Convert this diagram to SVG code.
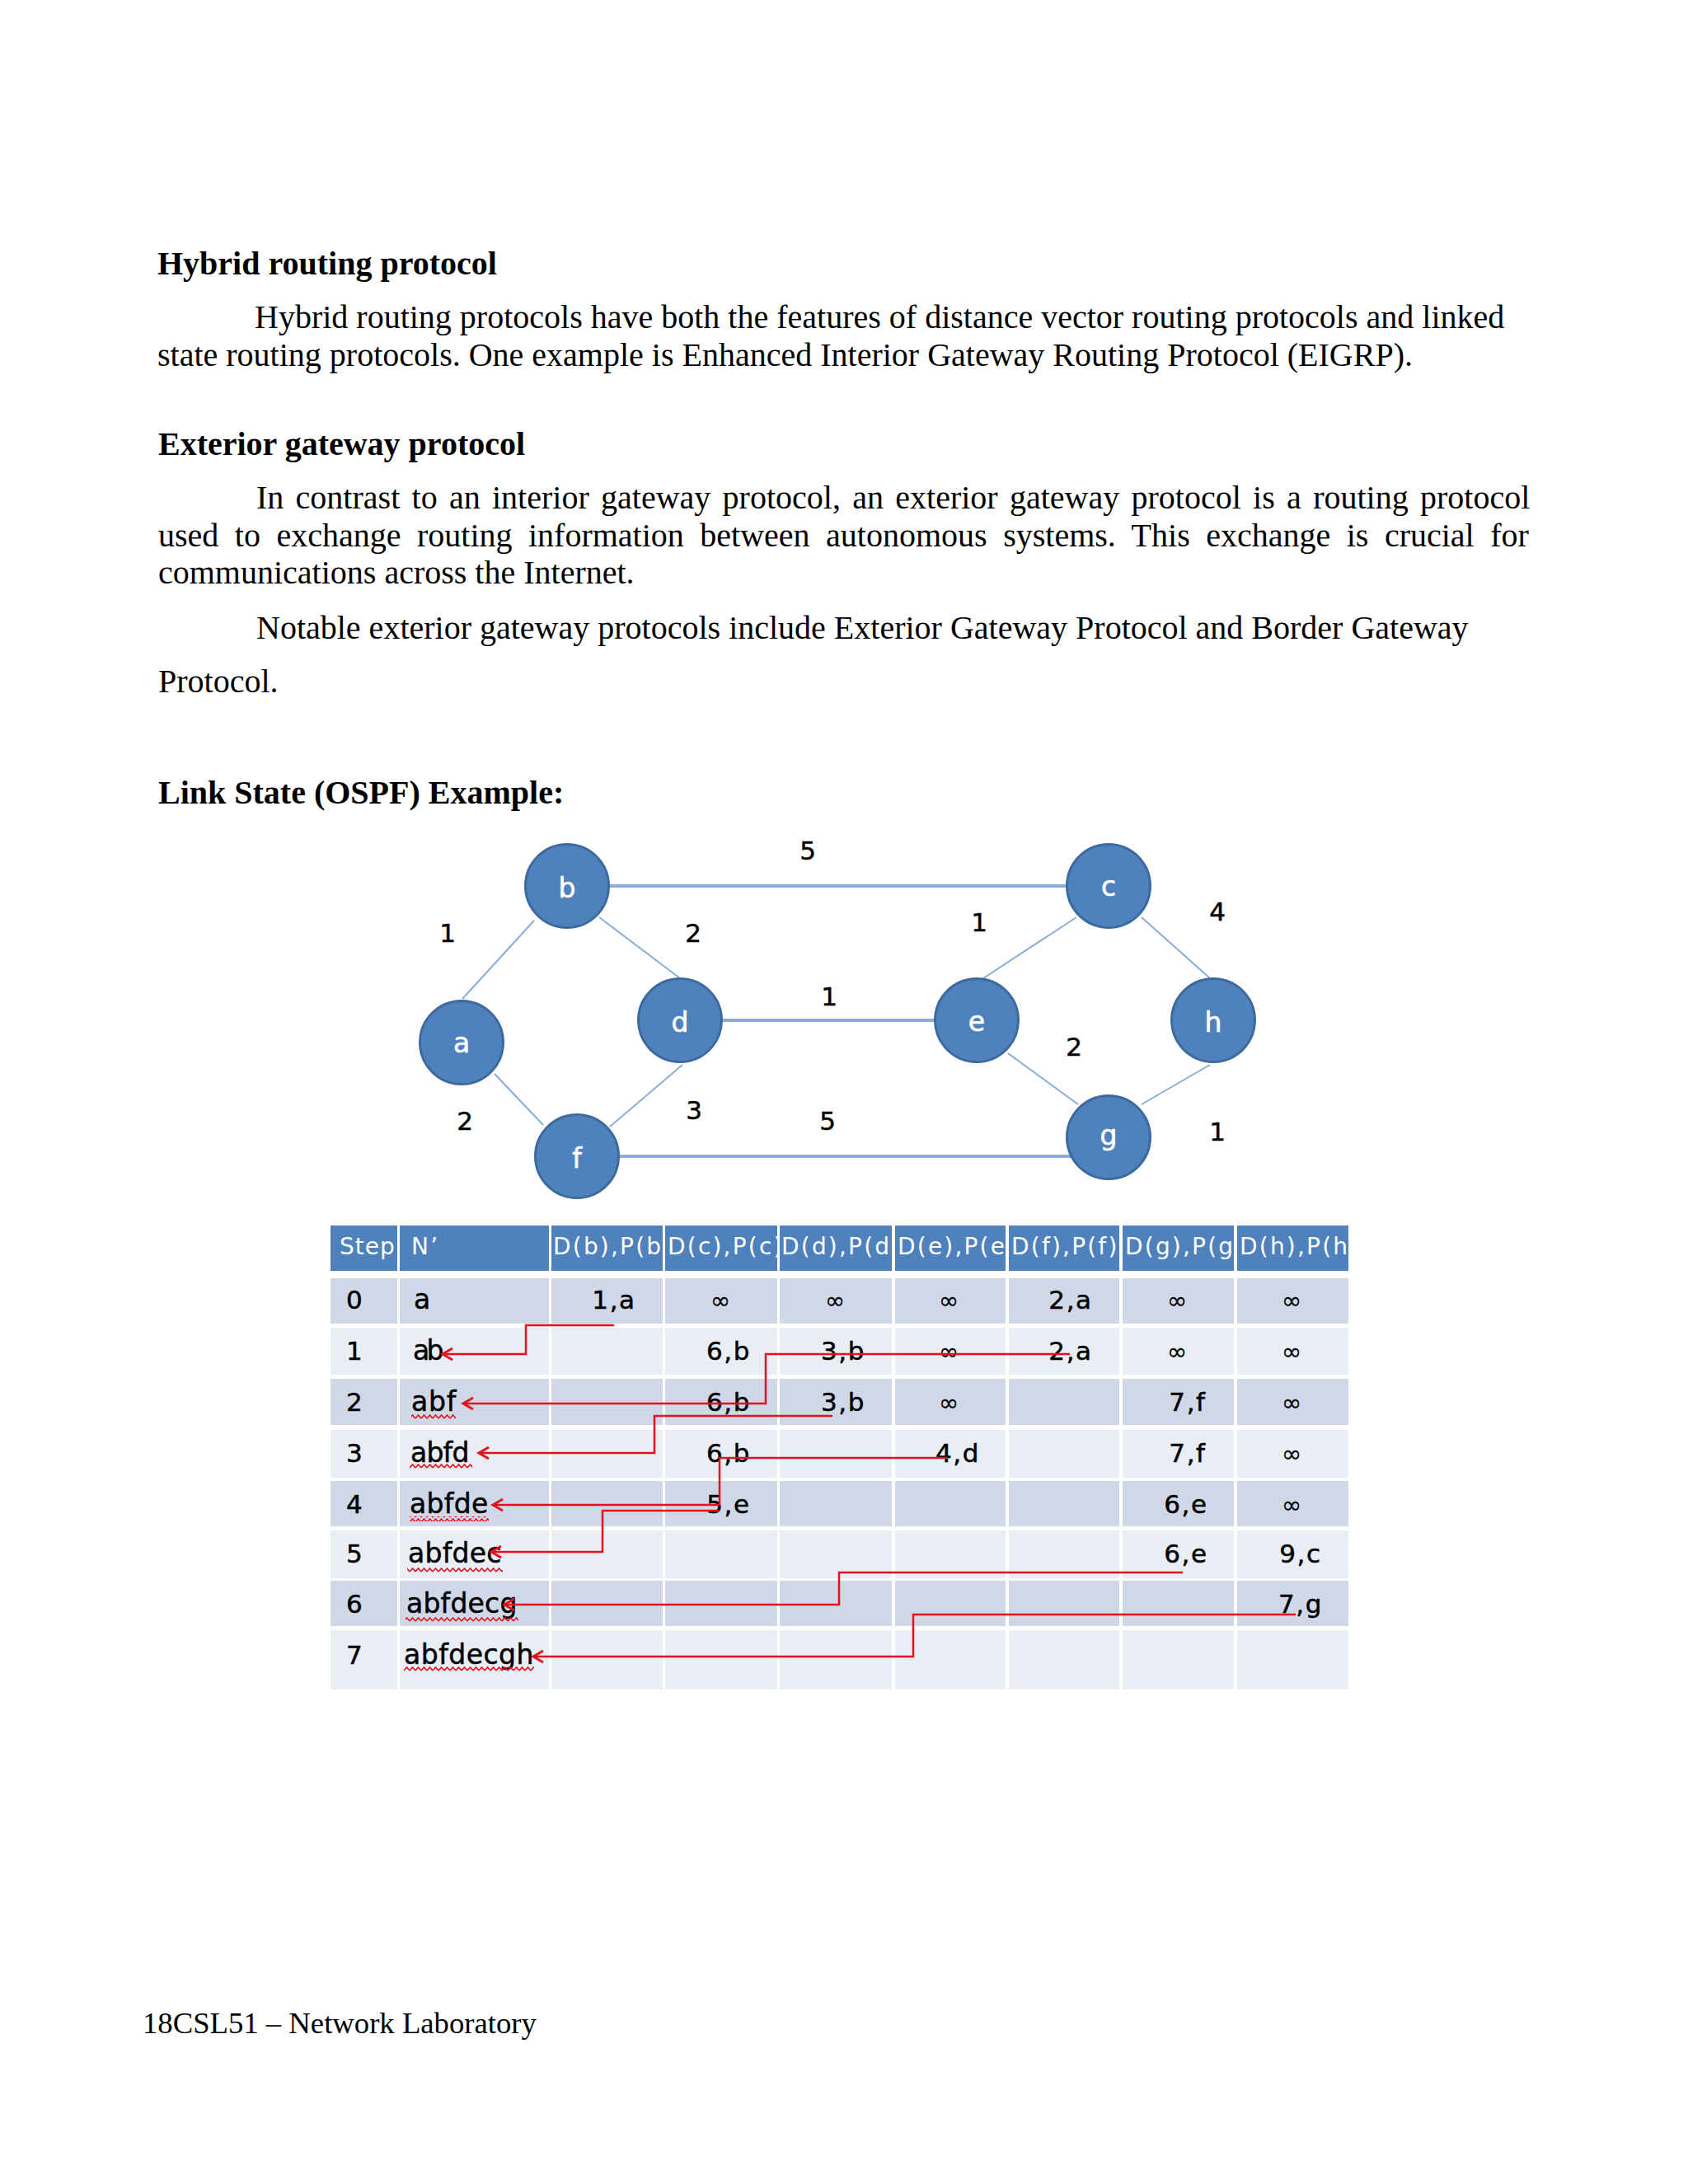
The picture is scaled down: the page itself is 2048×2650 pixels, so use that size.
<svg xmlns="http://www.w3.org/2000/svg" width="2048" height="2650" viewBox="0 0 2048 2650">
<style>
.serif{font-family:"Liberation Serif","Times New Roman",serif;font-size:40px;fill:#000}
.bold{font-weight:bold}
.foot{font-size:36.7px}
.node circle{fill:#4f81bd;stroke:#3d6a9e;stroke-width:3}
.node text{font-family:"DejaVu Sans",sans-serif;font-size:33px;fill:#fff;stroke:#fff;stroke-width:0.6;text-anchor:middle}
.elabel{font-family:"DejaVu Sans",sans-serif;font-size:31px;fill:#000;stroke:#000;stroke-width:0.5;text-anchor:middle}
.edge{stroke:#8aacd8;stroke-width:2;fill:none}
.thick{stroke-width:4}
.hdr{fill:#4f81bd}
.r0{fill:#d0d8e8}
.r1{fill:#e9edf4}
.gap{fill:#fff}
.th{font-family:"DejaVu Sans",sans-serif;font-size:28px;fill:#fff;letter-spacing:2.2px}
.td{font-family:"DejaVu Sans",sans-serif;font-size:31px;fill:#000;stroke:#000;stroke-width:0.5;letter-spacing:1.6px}
.nn{font-size:33px}
.c{text-anchor:middle}
.inf{font-size:29px;letter-spacing:0;stroke-width:0.2}
.arrow{stroke:#e3121b;stroke-width:2.5;fill:none;marker-end:url(#chev)}
.squig{fill:url(#sq)}
</style>
<defs>
<marker id="chev" viewBox="-15 -10 18 20" refX="0" refY="0" markerWidth="18" markerHeight="20" markerUnits="userSpaceOnUse" orient="auto">
<path d="M-12,-7 L0,0 L-12,7" fill="none" stroke="#e3121b" stroke-width="3"/>
</marker>
<pattern id="sq" x="0" y="0" width="7" height="6" patternUnits="userSpaceOnUse">
<path d="M0,5 L3.5,1 L7,5" fill="none" stroke="#e3121b" stroke-width="1.6"/>
</pattern>
<clipPath id="cb"><rect x="669" y="1487" width="135" height="55"/></clipPath>
<clipPath id="cc"><rect x="807" y="1487" width="136" height="55"/></clipPath>
<clipPath id="cd"><rect x="946" y="1487" width="136" height="55"/></clipPath>
<clipPath id="ce"><rect x="1086" y="1487" width="134" height="55"/></clipPath>
<clipPath id="cf"><rect x="1224" y="1487" width="134" height="55"/></clipPath>
<clipPath id="cg"><rect x="1362" y="1487" width="135" height="55"/></clipPath>
<clipPath id="ch"><rect x="1501" y="1487" width="135" height="55"/></clipPath>
</defs>
<rect width="2048" height="2650" fill="#fff"/>

<g id="text">
<text class="serif bold" x="191" y="333">Hybrid routing protocol</text>
<text class="serif" x="309" y="398">Hybrid routing protocols have both the features of distance vector routing protocols and linked</text>
<text class="serif" x="191" y="444">state routing protocols. One example is Enhanced Interior Gateway Routing Protocol (EIGRP).</text>
<text class="serif bold" x="192" y="552">Exterior gateway protocol</text>
<text class="serif" x="311" y="617" word-spacing="4.3">In contrast to an interior gateway protocol, an exterior gateway protocol is a routing protocol</text>
<text class="serif" x="192" y="663" word-spacing="9.5">used to exchange routing information between autonomous systems. This exchange is crucial for</text>
<text class="serif" x="192" y="708">communications across the Internet.</text>
<text class="serif" x="311" y="775">Notable exterior gateway protocols include Exterior Gateway Protocol and Border Gateway</text>
<text class="serif" x="192" y="840">Protocol.</text>
<text class="serif bold" x="192" y="975">Link State (OSPF) Example:</text>
<text class="serif foot" x="173" y="2467">18CSL51 – Network Laboratory</text>
</g>

<g id="edges">
<line class="edge thick" x1="688" y1="1075" x2="1345" y2="1075"/>
<line class="edge thick" x1="825" y1="1238" x2="1185" y2="1238"/>
<line class="edge thick" x1="700" y1="1403" x2="1300" y2="1403"/>
<line class="edge" x1="561" y1="1212" x2="648" y2="1117"/>
<line class="edge" x1="727" y1="1113" x2="825" y2="1187"/>
<line class="edge" x1="1306" y1="1113" x2="1193" y2="1187"/>
<line class="edge" x1="1385" y1="1113" x2="1468" y2="1187"/>
<line class="edge" x1="1223" y1="1278" x2="1308" y2="1340"/>
<line class="edge" x1="1468" y1="1292" x2="1385" y2="1340"/>
<line class="edge" x1="600" y1="1303" x2="659" y2="1365"/>
<line class="edge" x1="828" y1="1292" x2="740" y2="1367"/>
</g>
<g id="edge-labels">
<text class="elabel" x="980" y="1043">5</text>
<text class="elabel" x="543" y="1143">1</text>
<text class="elabel" x="841" y="1143">2</text>
<text class="elabel" x="1188" y="1130">1</text>
<text class="elabel" x="1477" y="1117">4</text>
<text class="elabel" x="1006" y="1220">1</text>
<text class="elabel" x="1303" y="1281">2</text>
<text class="elabel" x="564" y="1371">2</text>
<text class="elabel" x="842" y="1358">3</text>
<text class="elabel" x="1004" y="1371">5</text>
<text class="elabel" x="1477" y="1384">1</text>
</g>

<g id="node-a" class="node"><circle cx="560" cy="1265" r="50.5"/><text x="560" y="1277">a</text></g>
<g id="node-b" class="node"><circle cx="688" cy="1075" r="50.5"/><text x="688" y="1089">b</text></g>
<g id="node-c" class="node"><circle cx="1345" cy="1075" r="50.5"/><text x="1345" y="1087">c</text></g>
<g id="node-d" class="node"><circle cx="825" cy="1238" r="50.5"/><text x="825" y="1252">d</text></g>
<g id="node-e" class="node"><circle cx="1185" cy="1238" r="50.5"/><text x="1185" y="1251">e</text></g>
<g id="node-f" class="node"><circle cx="700" cy="1403" r="50.5"/><text x="700" y="1417">f</text></g>
<g id="node-g" class="node"><circle cx="1345" cy="1380" r="50.5"/><text x="1345" y="1389">g</text></g>
<g id="node-h" class="node"><circle cx="1472" cy="1238" r="50.5"/><text x="1472" y="1252">h</text></g>

<g id="table">
<rect class="hdr" x="401" y="1487" width="1235" height="55"/>
<rect class="r0" x="401" y="1551" width="1235" height="55"/>
<rect class="r1" x="401" y="1611" width="1235" height="57"/>
<rect class="r0" x="401" y="1673" width="1235" height="56"/>
<rect class="r1" x="401" y="1735" width="1235" height="58"/>
<rect class="r0" x="401" y="1797" width="1235" height="55"/>
<rect class="r1" x="401" y="1857" width="1235" height="58"/>
<rect class="r0" x="401" y="1918" width="1235" height="55"/>
<rect class="r1" x="401" y="1978" width="1235" height="72"/>
<rect class="gap" x="482" y="1487" width="3" height="563"/>
<rect class="gap" x="666" y="1487" width="3" height="563"/>
<rect class="gap" x="804" y="1487" width="3" height="563"/>
<rect class="gap" x="943" y="1487" width="3" height="563"/>
<rect class="gap" x="1082" y="1487" width="4" height="563"/>
<rect class="gap" x="1220" y="1487" width="4" height="563"/>
<rect class="gap" x="1358" y="1487" width="4" height="563"/>
<rect class="gap" x="1497" y="1487" width="4" height="563"/>

<text class="th" x="412" y="1522" style="letter-spacing:1px">Step</text>
<text class="th" x="499" y="1522">N’</text>
<text class="th" x="671" y="1522" clip-path="url(#cb)">D(b),P(b)</text>
<text class="th" x="810" y="1522" clip-path="url(#cc)">D(c),P(c)</text>
<text class="th" x="948" y="1522" clip-path="url(#cd)">D(d),P(d)</text>
<text class="th" x="1089" y="1522" clip-path="url(#ce)">D(e),P(e)</text>
<text class="th" x="1227" y="1522" clip-path="url(#cf)">D(f),P(f)</text>
<text class="th" x="1365" y="1522" clip-path="url(#cg)">D(g),P(g)</text>
<text class="th" x="1504" y="1522" clip-path="url(#ch)">D(h),P(h)</text>

<text class="td" x="420" y="1588">0</text>
<text class="td" x="420" y="1650">1</text>
<text class="td" x="420" y="1712">2</text>
<text class="td" x="420" y="1774">3</text>
<text class="td" x="420" y="1836">4</text>
<text class="td" x="420" y="1896">5</text>
<text class="td" x="420" y="1957">6</text>
<text class="td" x="420" y="2019">7</text>

<text class="td nn" x="502" y="1588">a</text>
<text class="td nn" x="501" y="1650" textLength="39" lengthAdjust="spacing">ab</text>
<text class="td nn" x="499" y="1712" textLength="56" lengthAdjust="spacing">abf</text>
<text class="td nn" x="498" y="1774" textLength="73" lengthAdjust="spacing">abfd</text>
<text class="td nn" x="497" y="1836" textLength="97" lengthAdjust="spacing">abfde</text>
<text class="td nn" x="495" y="1896" textLength="115" lengthAdjust="spacing">abfdec</text>
<text class="td nn" x="493" y="1957" textLength="136" lengthAdjust="spacing">abfdecg</text>
<text class="td nn" x="490" y="2019" textLength="159" lengthAdjust="spacing">abfdecgh</text>

<rect class="squig" x="499" y="1716" width="54" height="6"/>
<rect class="squig" x="497" y="1776" width="76" height="6"/>
<rect class="squig" x="497" y="1840" width="96" height="6"/>
<rect class="squig" x="494" y="1902" width="116" height="6"/>
<rect class="squig" x="492" y="1962" width="137" height="6"/>
<rect class="squig" x="490" y="2022" width="158" height="6"/>

<text class="td c" x="745" y="1588">1,a</text>
<text class="td c inf" x="874" y="1588">∞</text>
<text class="td c inf" x="1013" y="1588">∞</text>
<text class="td c inf" x="1151" y="1588">∞</text>
<text class="td c" x="1299" y="1588">2,a</text>
<text class="td c inf" x="1428" y="1588">∞</text>
<text class="td c inf" x="1567" y="1588">∞</text>

<text class="td c" x="884" y="1650">6,b</text>
<text class="td c" x="1023" y="1650">3,b</text>
<text class="td c inf" x="1151" y="1650">∞</text>
<text class="td c" x="1299" y="1650">2,a</text>
<text class="td c inf" x="1428" y="1650">∞</text>
<text class="td c inf" x="1567" y="1650">∞</text>

<text class="td c" x="884" y="1712">6,b</text>
<text class="td c" x="1023" y="1712">3,b</text>
<text class="td c inf" x="1151" y="1712">∞</text>
<text class="td c" x="1441" y="1712">7,f</text>
<text class="td c inf" x="1567" y="1712">∞</text>

<text class="td c" x="884" y="1774">6,b</text>
<text class="td c" x="1162" y="1774">4,d</text>
<text class="td c" x="1441" y="1774">7,f</text>
<text class="td c inf" x="1567" y="1774">∞</text>

<text class="td c" x="884" y="1836">5,e</text>
<text class="td c" x="1439" y="1836">6,e</text>
<text class="td c inf" x="1567" y="1836">∞</text>

<text class="td c" x="1439" y="1896">6,e</text>
<text class="td c" x="1578" y="1896">9,c</text>

<text class="td c" x="1578" y="1957">7,g</text>
</g>

<g id="connectors">
<path class="arrow" d="M745,1608 H638 V1643 H537"/>
<path class="arrow" d="M1298,1643 H929 V1703 H562"/>
<path class="arrow" d="M1010,1718 H794 V1763 H581"/>
<path class="arrow" d="M1150,1769 H873 V1826 H598"/>
<path class="arrow" d="M872,1833 H731 V1883 H596"/>
<path class="arrow" d="M1435,1908 H1018 V1947 H612"/>
<path class="arrow" d="M1572,1959 H1108 V2010 H647"/>
</g>
</svg>
